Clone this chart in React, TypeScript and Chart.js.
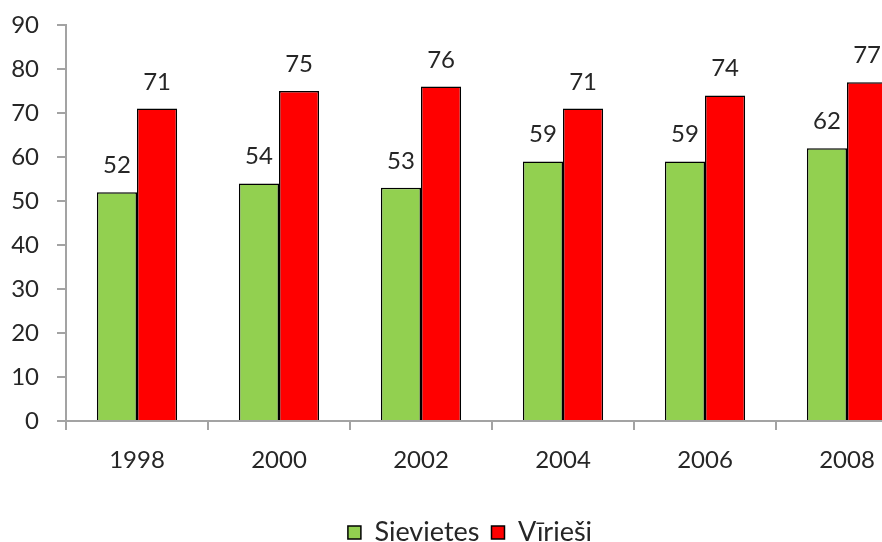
import React, { useEffect, useRef } from "react";
import { Chart, registerables } from "chart.js";

Chart.register(...registerables);

const years = ["1998", "2000", "2002", "2004", "2006", "2008"];
const sievietes = [52, 54, 53, 59, 59, 62];
const virieSi = [71, 75, 76, 71, 74, 77];
const yTicksMax = 90;
const yTicksStep = 10;

const FONT = "Lato, 'Open Sans', sans-serif";
const TEXT = "#262626";
const AXIS = "#a3a3a3";

// Writes each bar's value above it.
const valueLabels = {
  id: "valueLabels",
  afterDatasetsDraw(chart: any) {
    const ctx = chart.ctx;
    ctx.save();
    ctx.font = `24px ${FONT}`;
    ctx.fillStyle = TEXT;
    ctx.textAlign = "center";
    ctx.textBaseline = "alphabetic";
    chart.data.datasets.forEach((ds: any, di: number) => {
      const meta = chart.getDatasetMeta(di);
      meta.data.forEach((bar: any, i: number) => {
        ctx.fillText(String(ds.data[i]), bar.x, bar.y - 19);
      });
    });
    ctx.restore();
  },
};

// Centres the legend row under the whole canvas rather than under the padded area.
const legendCentre = {
  id: "legendCentre",
  afterLayout(chart: any) {
    const lg = chart.legend;
    if (!lg) return;
    const shift = (chart.width - (lg.right - lg.left)) / 2 - lg.left;
    lg.left += shift;
    lg.right += shift;
  },
};

export default function App() {
  const ref = useRef<HTMLCanvasElement | null>(null);

  useEffect(() => {
    if (!ref.current) return;
    const chart = new Chart(ref.current, {
      type: "bar",
      data: {
        labels: years,
        datasets: [
          {
            label: "Sievietes",
            data: sievietes,
            backgroundColor: "#92D050",
            borderColor: "#000000",
            borderWidth: 1.5,
          },
          {
            label: "Vīrieši",
            data: virieSi,
            backgroundColor: "#FF0000",
            borderColor: "#000000",
            borderWidth: 1.5,
          },
        ],
      },
      options: {
        responsive: false,
        animation: false,
        devicePixelRatio: 1,
        datasets: {
          bar: { categoryPercentage: 0.565, barPercentage: 1 },
        },
        layout: { padding: { top: 25, right: 22, bottom: 0, left: 0 } },
        plugins: {
          tooltip: { enabled: false },
          legend: {
            position: "bottom",
            labels: {
              boxWidth: 13,
              boxHeight: 13,
              padding: 12,
              color: TEXT,
              font: { family: FONT, size: 27 },
            },
          },
        },
        scales: {
          x: {
            afterFit: (s: any) => {
              s.height = 86;
            },
            grid: {
              drawOnChartArea: false,
              tickLength: 9,
              color: AXIS,
              lineWidth: 2,
            },
            border: { color: AXIS, width: 2 },
            ticks: {
              color: TEXT,
              padding: 16,
              font: { family: FONT, size: 24 },
            },
          },
          y: {
            min: 0,
            max: yTicksMax,
            afterFit: (s: any) => {
              s.width = 66;
              s.paddingTop = 0;
              s.paddingBottom = 0;
            },
            grid: {
              drawOnChartArea: false,
              tickLength: 9,
              color: AXIS,
              lineWidth: 2,
            },
            border: { color: AXIS, width: 2 },
            ticks: {
              stepSize: yTicksStep,
              color: TEXT,
              padding: 18,
              font: { family: FONT, size: 24 },
            },
          },
        },
      },
      plugins: [valueLabels, legendCentre],
    });
    return () => chart.destroy();
  }, []);

  return (
    <div
      style={{
        position: "fixed",
        left: 0,
        top: 0,
        width: 882,
        height: 542,
        overflow: "hidden",
        background: "#ffffff",
      }}
    >
      <canvas ref={ref} width={940} height={556} style={{ display: "block" }} />
    </div>
  );
}
